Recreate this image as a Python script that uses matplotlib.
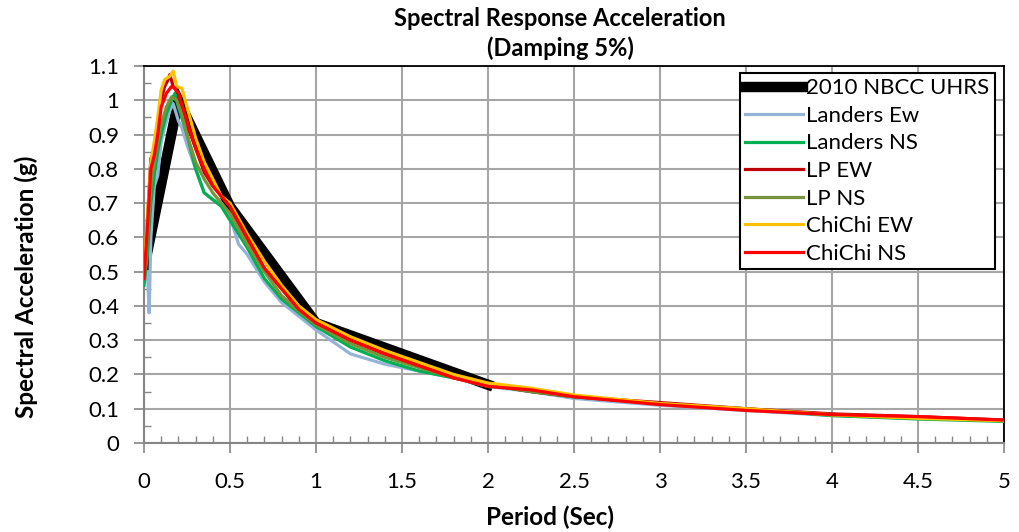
import numpy as np
import matplotlib.pyplot as plt
from matplotlib.ticker import MultipleLocator

# NBCC uniform hazard spectrum
T_uhrs = [0.0, 0.2, 0.5, 1.0, 2.0]
Sa_uhrs = [0.51, 1.0, 0.69, 0.35, 0.17]

# record spectra (period, Sa)
T_landers_ew = [0.0, 0.02, 0.03, 0.04, 0.06, 0.08, 0.1, 0.12, 0.15, 0.17, 0.2, 0.22, 0.25, 0.3, 0.35, 0.4, 0.45, 0.5,
                0.55, 0.6, 0.7, 0.8, 0.9, 1.0, 1.2, 1.4, 1.6, 1.8, 2.0, 2.25, 2.5, 3.0, 3.5, 4.0, 4.5, 5.0]
Sa_landers_ew = [0.47, 0.50, 0.38, 0.60, 0.75, 0.78, 0.88, 0.92, 0.97, 0.99, 0.94, 0.92, 0.87, 0.80, 0.73, 0.71, 0.70, 0.66,
                 0.58, 0.55, 0.47, 0.41, 0.37, 0.33, 0.26, 0.23, 0.21, 0.19, 0.165, 0.15, 0.13, 0.11, 0.095, 0.08, 0.072, 0.065]

T_landers_ns = [0.0, 0.02, 0.04, 0.06, 0.08, 0.1, 0.13, 0.16, 0.18, 0.2, 0.25, 0.3, 0.35, 0.4, 0.45, 0.5,
                0.6, 0.7, 0.8, 0.9, 1.0, 1.2, 1.4, 1.6, 1.8, 2.0, 2.25, 2.5, 3.0, 3.5, 4.0, 4.5, 5.0]
Sa_landers_ns = [0.46, 0.55, 0.70, 0.78, 0.85, 0.90, 0.96, 1.00, 1.02, 0.98, 0.90, 0.80, 0.73, 0.71, 0.69, 0.65,
                 0.57, 0.48, 0.42, 0.38, 0.34, 0.28, 0.24, 0.21, 0.19, 0.17, 0.15, 0.135, 0.115, 0.10, 0.08, 0.07, 0.063]

T_lp_ew = [0.0, 0.02, 0.04, 0.06, 0.08, 0.1, 0.12, 0.14, 0.15, 0.17, 0.2, 0.25, 0.3, 0.35, 0.4, 0.5,
           0.6, 0.7, 0.8, 0.9, 1.0, 1.2, 1.4, 1.6, 1.8, 2.0, 2.25, 2.5, 3.0, 3.5, 4.0, 4.5, 5.0]
Sa_lp_ew = [0.49, 0.65, 0.83, 0.85, 0.92, 1.00, 1.04, 1.06, 1.075, 1.04, 1.02, 0.93, 0.86, 0.79, 0.75, 0.69,
            0.59, 0.51, 0.45, 0.39, 0.35, 0.30, 0.26, 0.23, 0.19, 0.17, 0.15, 0.135, 0.118, 0.10, 0.085, 0.077, 0.067]

T_lp_ns = [0.0, 0.02, 0.04, 0.06, 0.08, 0.1, 0.13, 0.16, 0.19, 0.22, 0.25, 0.3, 0.35, 0.4, 0.5,
           0.6, 0.7, 0.8, 0.9, 1.0, 1.2, 1.4, 1.6, 1.8, 2.0, 2.25, 2.5, 3.0, 3.5, 4.0, 4.5, 5.0]
Sa_lp_ns = [0.48, 0.60, 0.75, 0.82, 0.88, 0.93, 0.98, 1.01, 1.00, 0.96, 0.90, 0.82, 0.77, 0.73, 0.67,
            0.58, 0.50, 0.43, 0.385, 0.345, 0.29, 0.25, 0.22, 0.19, 0.17, 0.15, 0.135, 0.115, 0.098, 0.083, 0.074, 0.066]

T_chichi_ew = [0.0, 0.02, 0.04, 0.06, 0.08, 0.1, 0.12, 0.15, 0.17, 0.19, 0.22, 0.25, 0.3, 0.35, 0.4, 0.45, 0.5,
               0.6, 0.7, 0.8, 0.9, 1.0, 1.2, 1.4, 1.6, 1.8, 2.0, 2.25, 2.5, 3.0, 3.5, 4.0, 4.5, 5.0]
Sa_chichi_ew = [0.50, 0.66, 0.82, 0.88, 0.95, 1.03, 1.06, 1.07, 1.085, 1.04, 1.035, 0.98, 0.89, 0.82, 0.77, 0.72, 0.70,
                0.61, 0.53, 0.46, 0.40, 0.36, 0.31, 0.27, 0.235, 0.20, 0.175, 0.16, 0.14, 0.115, 0.10, 0.082, 0.072, 0.065]

T_chichi_ns = [0.0, 0.02, 0.04, 0.06, 0.08, 0.1, 0.13, 0.16, 0.18, 0.2, 0.25, 0.3, 0.35, 0.4, 0.5,
               0.6, 0.7, 0.8, 0.9, 1.0, 1.2, 1.4, 1.6, 1.8, 2.0, 2.25, 2.5, 3.0, 3.5, 4.0, 4.5, 5.0]
Sa_chichi_ns = [0.48, 0.63, 0.80, 0.84, 0.90, 0.98, 1.02, 1.04, 1.035, 1.02, 0.94, 0.86, 0.80, 0.75, 0.69,
                0.60, 0.51, 0.45, 0.39, 0.35, 0.30, 0.26, 0.225, 0.19, 0.165, 0.155, 0.135, 0.112, 0.095, 0.083, 0.077, 0.067]

plt.rcParams['font.family'] = ['Lato', 'DejaVu Sans']

fig = plt.figure(figsize=(10.19, 5.32), dpi=100)
ax = fig.add_axes([0.1413, 0.1673, 0.8440, 0.7087])

ax.plot(T_uhrs, Sa_uhrs, color='black', lw=7.5, solid_joinstyle='miter', label='2010 NBCC UHRS', zorder=2)
ax.plot(T_landers_ew, Sa_landers_ew, color='#95B3D7', lw=2.3, label='Landers Ew', zorder=3)
ax.plot(T_landers_ns, Sa_landers_ns, color='#00B050', lw=2.3, label='Landers NS', zorder=3)
ax.plot(T_lp_ew, Sa_lp_ew, color='#C00000', lw=2.3, label='LP EW', zorder=3)
ax.plot(T_lp_ns, Sa_lp_ns, color='#77933C', lw=2.3, label='LP NS', zorder=3)
ax.plot(T_chichi_ew, Sa_chichi_ew, color='#FFC000', lw=2.3, label='ChiChi EW', zorder=3)
ax.plot(T_chichi_ns, Sa_chichi_ns, color='#FF0000', lw=2.3, label='ChiChi NS', zorder=3)

ax.set_xlim(0, 5)
ax.set_ylim(0, 1.1)
ax.xaxis.set_major_locator(MultipleLocator(0.5))
ax.xaxis.set_minor_locator(MultipleLocator(0.1))
ax.yaxis.set_major_locator(MultipleLocator(0.1))
ax.yaxis.set_minor_locator(MultipleLocator(0.05))

def fmt(v, pos):
    return ('%.1f' % v).rstrip('0').rstrip('.')

ax.xaxis.set_major_formatter(plt.FuncFormatter(fmt))
ax.yaxis.set_major_formatter(plt.FuncFormatter(fmt))

ax.grid(True, which='major', color='#A6A6A6', lw=1.5)
ax.set_axisbelow(True)

ax.tick_params(which='major', direction='out', length=7, width=1.2, color='#868686', labelsize=16)
ax.tick_params(which='minor', direction='in', length=5, width=1.0, color='#868686')
ax.tick_params(axis='y', which='major', pad=11)
ax.tick_params(axis='x', which='major', pad=14)

for side in ['left', 'bottom']:
    ax.spines[side].set_color('#868686')
    ax.spines[side].set_linewidth(1.5)
for side in ['top', 'right']:
    ax.spines[side].set_color('black')
    ax.spines[side].set_linewidth(1.3)

# axis titles placed where the original has them (slightly off-centre)
fig.text(550 / 1019, 1 - 517 / 532, 'Period (Sec)', fontsize=17.5, fontweight='bold',
         ha='center', va='center')
fig.text(26 / 1019, 1 - 287 / 532, 'Spectral Acceleration (g)', fontsize=17.5, fontweight='bold',
         ha='center', va='center', rotation=90)
fig.text(560 / 1019, 1 - 18 / 532, 'Spectral Response Acceleration', fontsize=17,
         fontweight='bold', ha='center', va='center')
fig.text(560 / 1019, 1 - 48 / 532, '(Damping 5%)', fontsize=17,
         fontweight='bold', ha='center', va='center')

leg = ax.legend(loc='upper right', bbox_to_anchor=(0.9895, 0.982), fontsize=16, frameon=True,
                fancybox=False, framealpha=1, edgecolor='black', handlelength=2.6,
                handletextpad=0.15, labelspacing=0.34, borderpad=0.25, borderaxespad=0)
leg.get_frame().set_linewidth(1.5)

fig.savefig('out.png', dpi=100)
